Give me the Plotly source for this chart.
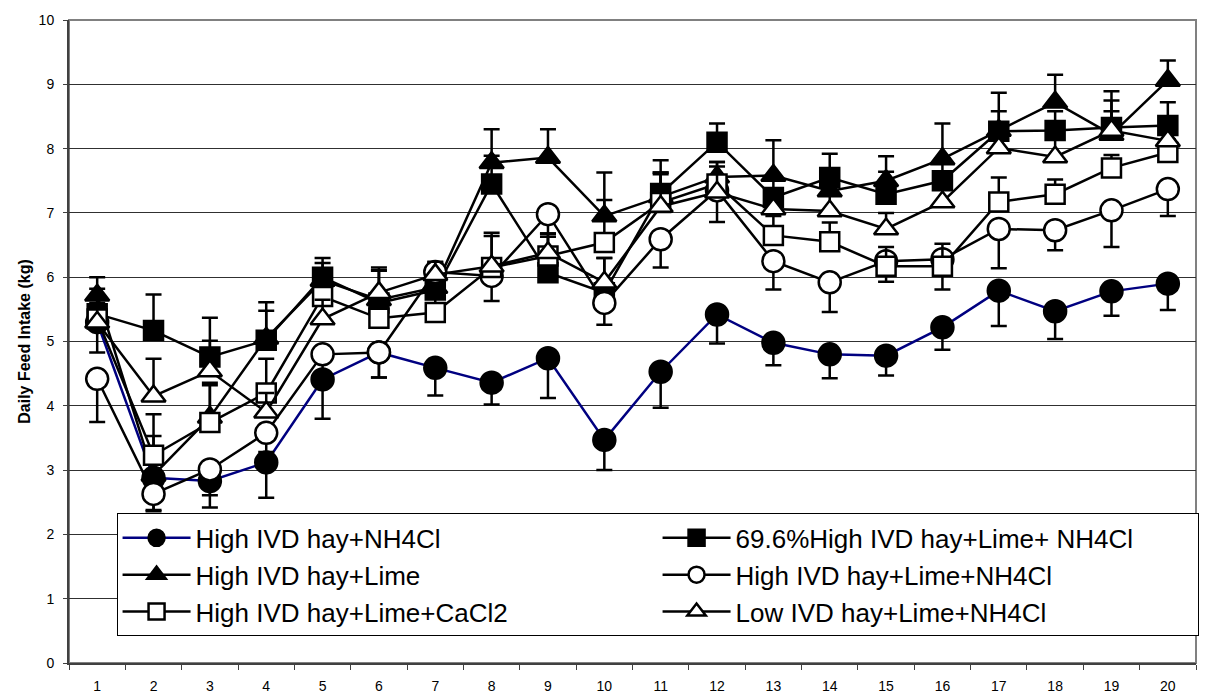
import plotly.graph_objects as go

# Day of feeding (categories on the x axis)
days = [str(d) for d in range(1, 21)]

# High IVD hay + NH4Cl (filled circles, navy line) – mean and lower SE
hi_nh4cl = [5.30, 2.88, 2.83, 3.12, 4.41, 4.83, 4.59, 4.36, 4.74, 3.47,
            4.53, 5.42, 4.98, 4.80, 4.78, 5.22, 5.79, 5.47, 5.78, 5.90]
hi_nh4cl_se = [0.47, 0.50, 0.41, 0.55, 0.61, 0.39, 0.43, 0.34, 0.62, 0.47,
               0.56, 0.45, 0.35, 0.37, 0.31, 0.35, 0.55, 0.43, 0.38, 0.41]

# 69.6% High IVD hay + Lime + NH4Cl (filled squares) – mean and upper SE
pct_lime_nh4cl = [5.43, 5.17, 4.76, 5.02, 6.00, 5.60, 5.80, 7.45, 6.07, 5.76,
                  7.30, 8.10, 7.24, 7.55, 7.29, 7.50, 8.27, 8.28, 8.33, 8.36]
pct_lime_nh4cl_se = [0.39, 0.56, 0.61, 0.59, 0.30, 0.55, 0.43, 0.44, 0.60, 0.54,
                     0.52, 0.29, 0.30, 0.37, 0.35, 0.35, 0.60, 0.30, 0.56, 0.36]

# High IVD hay + Lime (filled triangles) – mean and upper SE
hi_lime = [5.72, 2.92, 3.82, 5.05, 5.95, 5.65, 5.84, 7.78, 7.86, 6.95,
           7.25, 7.56, 7.58, 7.34, 7.50, 7.84, 8.28, 8.72, 8.22, 9.06]
hi_lime_se = [0.28, 0.61, 0.50, 0.43, 0.27, 0.45, 0.35, 0.52, 0.44, 0.68,
              0.38, 0.23, 0.55, 0.30, 0.38, 0.55, 0.30, 0.43, 0.53, 0.31]

# High IVD hay + Lime + NH4Cl (open circles) – mean and lower SE
hi_lime_nh4cl = [4.42, 2.63, 3.01, 3.58, 4.80, 4.83, 6.08, 6.02, 6.98, 5.60,
                 6.59, 7.35, 6.25, 5.92, 6.25, 6.28, 6.75, 6.73, 7.04, 7.37]
hi_lime_nh4cl_se = [0.67, 0.27, 0.40, 0.30, 0.30, 0.39, 0.20, 0.39, 0.30, 0.34,
                    0.44, 0.49, 0.44, 0.46, 0.32, 0.47, 0.61, 0.31, 0.57, 0.42]

# High IVD hay + Lime + CaCl2 (open squares) – mean and upper SE
hi_lime_cacl2 = [5.35, 3.23, 3.74, 4.20, 5.70, 5.36, 5.45, 6.15, 6.33, 6.54,
                 7.16, 7.45, 6.65, 6.55, 6.17, 6.17, 7.17, 7.29, 7.70, 7.94]
hi_lime_cacl2_se = [0.30, 0.64, 0.62, 0.53, 0.30, 0.30, 0.40, 0.49, 0.30, 0.66,
                    0.47, 0.27, 0.30, 0.30, 0.30, 0.35, 0.38, 0.23, 0.20, 0.20]

# Low IVD hay + Lime + NH4Cl (open triangles) – mean and upper SE
lo_lime_nh4cl = [5.30, 4.15, 4.54, 3.90, 5.35, 5.76, 6.04, 6.17, 6.38, 5.92,
                 7.10, 7.32, 7.06, 7.03, 6.75, 7.17, 8.01, 7.87, 8.28, 8.12]
lo_lime_nh4cl_se = [0.30, 0.58, 0.47, 0.30, 0.30, 0.35, 0.20, 0.52, 0.30, 0.38,
                    0.50, 0.47, 0.30, 0.30, 0.25, 0.30, 0.30, 0.30, 0.30, 0.30]

y_ticks = list(range(0, 11))

FONT = "Liberation Sans, Arial, sans-serif"
zeros = [0] * len(days)
MARKER_SIZE = {"circle": 22, "square": 19, "triangle-up": 21}


def series(name, values, err, upper, symbol, filled, line_color, rank):
    err_cfg = dict(type="data", symmetric=False,
                   array=err if upper else zeros,
                   arrayminus=zeros if upper else err,
                   color="black", thickness=2.5, width=8)
    return go.Scatter(
        x=days, y=values, name=name, mode="lines+markers",
        line=dict(color=line_color, width=2.5),
        marker=dict(symbol=symbol, size=MARKER_SIZE[symbol],
                    color="black" if filled else "white",
                    line=dict(color="black", width=2.5)),
        error_y=err_cfg, legendrank=rank,
    )


fig = go.Figure()
# drawing order: bottom to top
fig.add_trace(series("High IVD hay+NH4Cl", hi_nh4cl, hi_nh4cl_se, False,
                     "circle", True, "#000080", 1))
fig.add_trace(series("High IVD hay+Lime", hi_lime, hi_lime_se, True,
                     "triangle-up", True, "black", 3))
fig.add_trace(series("69.6%High IVD hay+Lime+ NH4Cl", pct_lime_nh4cl,
                     pct_lime_nh4cl_se, True, "square", True, "black", 2))
fig.add_trace(series("High IVD hay+Lime+NH4Cl", hi_lime_nh4cl,
                     hi_lime_nh4cl_se, False, "circle", False, "black", 4))
fig.add_trace(series("High IVD hay+Lime+CaCl2", hi_lime_cacl2,
                     hi_lime_cacl2_se, True, "square", False, "black", 5))
fig.add_trace(series("Low IVD hay+Lime+NH4Cl", lo_lime_nh4cl,
                     lo_lime_nh4cl_se, True, "triangle-up", False, "black", 6))

fig.update_layout(
    width=1209, height=697,
    margin=dict(l=69, r=13, t=20, b=34, autoexpand=False),
    paper_bgcolor="white", plot_bgcolor="white",
    font=dict(family=FONT, color="black", size=14),
    showlegend=True,
    legend=dict(
        orientation="h", x=0.0422, y=0.2326, xanchor="left", yanchor="top",
        bgcolor="white", bordercolor="black", borderwidth=1,
        font=dict(family=FONT, size=26, color="black"),
        entrywidth=457, entrywidthmode="pixels", itemwidth=68,
        traceorder="normal",
    ),
    xaxis=dict(
        type="category", range=[-0.5, 19.5], tickson="boundaries",
        ticks="outside", ticklen=5,
        tickcolor="#404040", tickwidth=1, showgrid=False,
        showline=True, linecolor="#404040", linewidth=2,
        tickfont=dict(size=14), ticklabelstandoff=9,
    ),
    yaxis=dict(
        range=[0, 10], tickvals=y_ticks, ticks="outside", ticklen=4,
        tickcolor="#404040", tickwidth=1,
        showgrid=True, gridcolor="#303030", gridwidth=1, zeroline=False,
        showline=True, linecolor="#404040", linewidth=2,
        tickfont=dict(size=14), ticklabelstandoff=6,
        title=dict(text="<b>Daily Feed Intake (kg)</b>",
                   font=dict(size=16), standoff=4),
    ),
    shapes=[dict(type="rect", xref="paper", yref="paper", x0=0, x1=1, y0=0, y1=1,
                 line=dict(color="#808080", width=2), layer="below")],
)

fig.write_html("out.html")
